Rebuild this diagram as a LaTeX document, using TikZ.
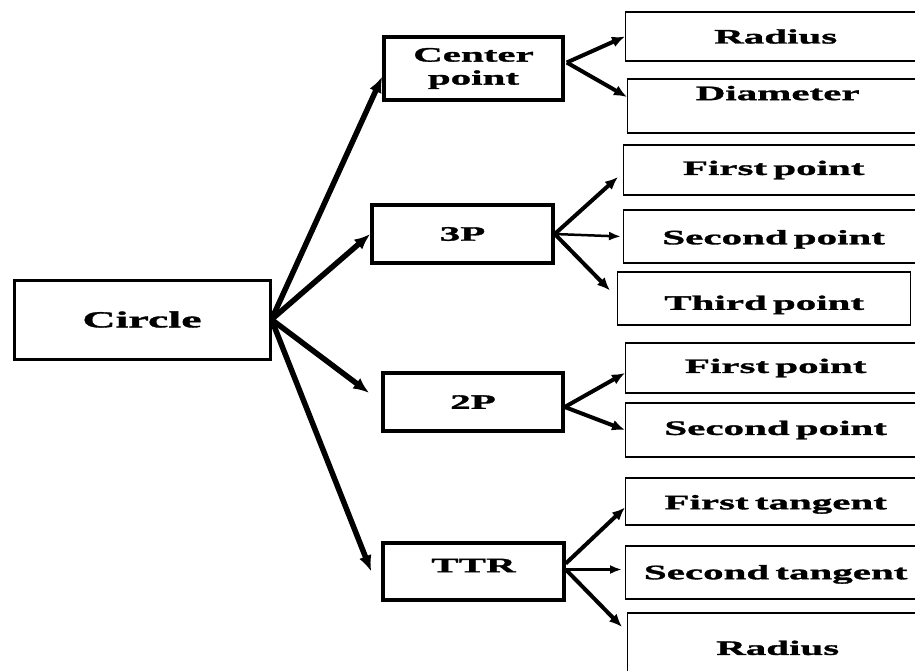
\documentclass[tikz,border=0pt]{standalone}
\usepackage{fontspec}
\setmainfont{Liberation Serif}[FakeStretch=2, BoldFeatures={FakeBold=1.5}, WordSpace=0.6]
\usetikzlibrary{arrows.meta,calc}
\tikzset{
	mainbox/.style={draw, line width=3.5pt, inner sep=0pt, font=\bfseries\fontsize{20.5}{23}\selectfont},
	leafbox/.style={draw, line width=1.4pt, inner sep=0pt, minimum width=300pt, font=\bfseries\fontsize{20.5}{23}\selectfont},
	bigarrow/.style={line width=5.5pt, -{Latex[length=16pt,width=13pt]}},
	subarrow/.style={line width=4pt, -{Latex[length=13pt,width=11pt]}},
	thinarrow/.style={line width=2.5pt, -{Latex[length=12pt,width=9pt]}},
}
\begin{document}
\begin{tikzpicture}[x=1pt,y=-1pt]
		\useasboundingbox (0,0) rectangle (915,670);
		\clip (0,0) rectangle (915,670);
		% left column
		\node [mainbox, line width=3pt, minimum width=256pt, minimum height=79pt, font=\bfseries\fontsize{23}{26}\selectfont] (circ) at (142,319.5) {Circle};
		% middle column
		\node [mainbox, minimum width=179pt, minimum height=63pt, align=center] (cpt) at (473.5,68.5) {Center\\point};
		\node [mainbox, minimum width=181pt, minimum height=58pt] (threep) at (462.5,234) {3P};
		\node [mainbox, minimum width=180pt, minimum height=58pt] (twop) at (473,402) {2P};
		\node [mainbox, minimum width=181pt, minimum height=57pt, text depth=12pt] (ttr) at (473.5,571.5) {TTR};
		% right column (runs off the page)
		\node [leafbox, minimum height=49pt, anchor=west] (rad) at (625,36.5) {Radius};
		\node [leafbox, minimum height=54pt, anchor=west, text depth=26pt] (diam) at (627,106) {Diameter};
		\node [leafbox, minimum height=50pt, anchor=west] (firstA) at (623,170) {First point};
		\node [leafbox, minimum height=53pt, anchor=west, text height=20pt] (secondA) at (623,236.5) {Second point};
		\node [leafbox, minimum width=293pt, minimum height=53pt, anchor=west, text height=27pt] (third) at (617,298.5) {Third point};
		\node [leafbox, minimum height=50pt, anchor=west] (firstB) at (625,368) {First point};
		\node [leafbox, minimum height=54pt, anchor=west] (secondB) at (625,430) {Second point};
		\node [leafbox, minimum height=47pt, anchor=west, text height=20pt] (tanA) at (625,501.5) {First tangent};
		\node [leafbox, minimum height=53pt, anchor=west, text height=18pt] (tanB) at (625,572.5) {Second tangent};
		\node [leafbox, minimum height=60pt, anchor=west, text height=24pt] (radB) at (627,643) {Radius};
		% connectors
		\draw [bigarrow] (circ.east) -- ($(cpt.west)+(0,8)$);
		\draw [bigarrow] (circ.east) -- (threep.west);
		\draw [bigarrow] (circ.east) -- ($(twop.west)+(-12,-9)$);
		\draw [bigarrow] (circ.east) -- ($(ttr.west)+(-10,0)$);
		\draw [subarrow] ($(cpt.east)+(2,-6)$) -- (rad.west);
		\draw [subarrow] ($(cpt.east)+(2,-6)$) -- ($(diam.west)+(0,-9)$);
		\draw [subarrow] (threep.east) -- ($(firstA.west)+(-5,7)$);
		\draw [thinarrow] (threep.east) -- ($(secondA.west)+(-2,0)$);
		\draw [subarrow] (threep.east) -- ($(third.west)+(-7,-8)$);
		\draw [subarrow] ($(twop.east)+(0,5)$) -- ($(firstB.west)+(0,5)$);
		\draw [subarrow] ($(twop.east)+(0,5)$) -- (secondB.west);
		\draw [subarrow] ($(ttr.east)+(0,-8)$) -- ($(tanA.west)+(0,6)$);
		\draw [thinarrow] ($(ttr.east)+(0,-2)$) -- ($(tanB.west)+(-3,-3)$);
		\draw [subarrow] ($(ttr.east)+(0,-2)$) -- ($(radB.west)+(-5,-16)$);
\end{tikzpicture}
\end{document}
